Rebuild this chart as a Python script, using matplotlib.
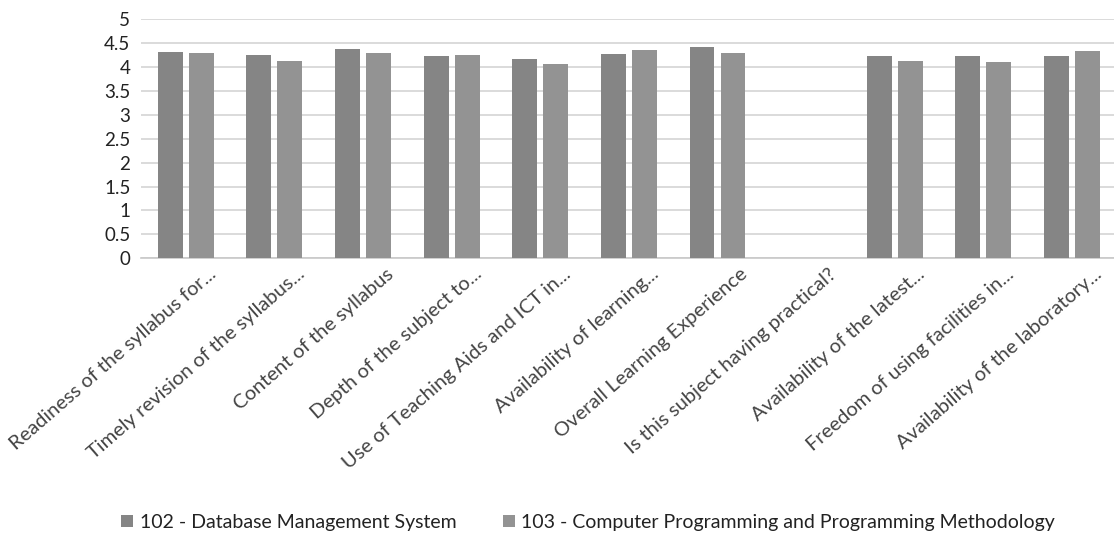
import matplotlib.pyplot as plt
import numpy as np

# categories (truncated as in the source chart)
categories = [
    'Readiness of the syllabus for...',
    'Timely revision of the syllabus...',
    'Content of the syllabus',
    'Depth of the subject to...',
    'Use of Teaching Aids and ICT in...',
    'Availability of learning...',
    'Overall Learning Experience',
    'Is this subject having practical?',
    'Availability of the latest...',
    'Freedom of using facilities in...',
    'Availability of the laboratory...',
]

dbms = [4.32, 4.25, 4.38, 4.24, 4.17, 4.27, 4.42, 0, 4.24, 4.23, 4.23]
cppm = [4.29, 4.13, 4.30, 4.26, 4.07, 4.36, 4.29, 0, 4.12, 4.11, 4.33]

series_names = ['102 - Database Management System',
                '103 - Computer Programming and Programming Methodology']
yticks = [0, 0.5, 1, 1.5, 2, 2.5, 3, 3.5, 4, 4.5, 5]

plt.rcParams['font.family'] = ['Lato', 'DejaVu Sans']

fig = plt.figure(figsize=(11.14, 5.53), dpi=100)
ax = fig.add_axes([0.127, 0.533, 0.875, 0.432])

x = np.arange(len(categories))
w = 0.28
gap = 0.035
ax.bar(x - w / 2 - gap, dbms, width=w, color='#858585', label=series_names[0], zorder=3)
ax.bar(x + w / 2 + gap, cppm, width=w, color='#939393', label=series_names[1], zorder=3)

ax.set_xlim(-0.5, len(categories) - 0.5)
ax.set_ylim(0, 5)
ax.set_yticks(yticks)
ax.set_yticklabels([f'{t:g}' for t in yticks], fontsize=13.5, color='#222222')
ax.yaxis.grid(True, color='#d4d4d4', linewidth=1.2, zorder=0)
ax.tick_params(axis='y', length=0, pad=8)

ax.set_xticks(x + 0.25)
ax.set_xticklabels(categories, rotation=41, ha='right', rotation_mode='anchor',
                   fontsize=14.5, color='#444444')
ax.tick_params(axis='x', length=0, pad=5)

for side in ['top', 'right', 'left']:
    ax.spines[side].set_visible(False)
ax.spines['bottom'].set_color('#c8c8c8')
ax.spines['bottom'].set_linewidth(1.2)

fig.legend(loc='center', bbox_to_anchor=(0.528, 0.055), ncol=2, frameon=False,
           fontsize=14, handlelength=0.6, handleheight=0.6, handletextpad=0.35,
           columnspacing=2.4, labelcolor='#222222')

fig.savefig('out.png', dpi=100, facecolor='white')
